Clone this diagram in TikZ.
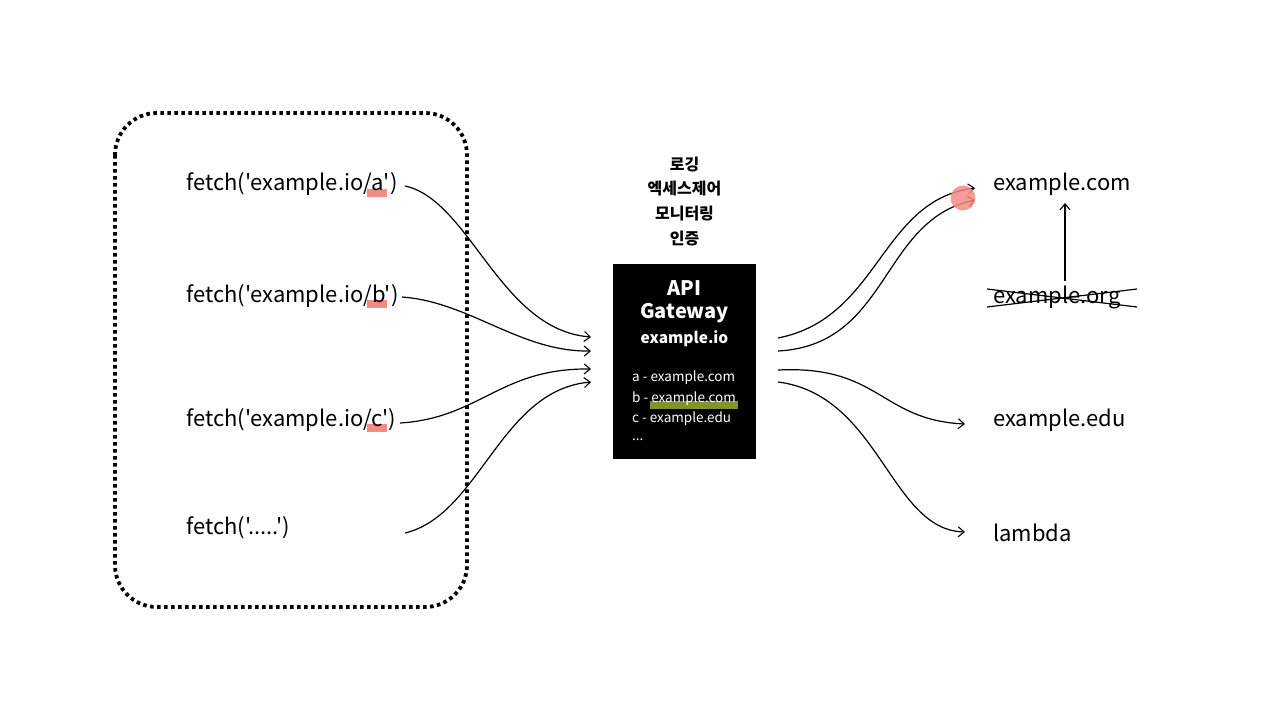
\documentclass[tikz,border=0pt]{standalone}
\usepackage{fontspec}
\setmainfont{Noto Sans CJK KR}[Ligatures=TeXOff]
\usetikzlibrary{arrows.meta}
\definecolor{hlred}{HTML}{F38B85}
\definecolor{hlgreen}{HTML}{84922E}
\tikzset{
  lbl/.style={anchor=west, inner sep=0pt, font=\fontsize{22}{24}\selectfont},
  conn/.style={line width=1.2pt, -{Straight Barb[length=6pt,width=10pt,line width=1.1pt]}},
  kor/.style={inner sep=0pt, font=\bfseries\fontsize{16}{18}\selectfont},
  gwt/.style={inner sep=0pt, text=white},
  lst/.style={anchor=west, inner sep=0pt, text=white, font=\fontsize{13.5}{15}\selectfont},
}
\begin{document}
\begin{tikzpicture}[x=1pt,y=1pt]
\useasboundingbox (0,0) rectangle (1280,-720);
% dotted client box
\draw[line width=3.8pt, dash pattern=on 3.6pt off 3.4pt, rounded corners=42pt] (115,-113) rectangle (467,-607);
% highlights
\fill[hlred] (367,-189) rectangle (387,-197);
\fill[hlred] (367,-300) rectangle (387,-308);
\fill[hlred] (367,-424) rectangle (387,-432);
% fetch labels
\node[lbl] (fa) at (186,-184) {fetch('example.io/a')};
\node[lbl] (fb) at (186,-296) {fetch('example.io/b')};
\node[lbl] (fc) at (186,-420) {fetch('example.io/c')};
\node[lbl] (fd) at (186,-528) {fetch('.....')};
% gateway
\node[fill=black, minimum width=143pt, minimum height=195pt, inner sep=0pt] (gw) at (684.5,-361.5) {};
\node[gwt, font=\bfseries\fontsize{20}{22}\selectfont] (gapi) at (684.5,-288) {API};
\node[gwt, font=\bfseries\fontsize{20}{22}\selectfont] (ggw) at (684.5,-313) {Gateway};
\node[gwt, font=\bfseries\fontsize{15.5}{17}\selectfont] (gio) at (684.5,-339) {example.io};
\fill[hlgreen] (650,-401) rectangle (738,-409);
\node[lst] (la) at (632,-378) {a - example.com};
\node[lst] (lb) at (632,-399) {b - example.com};
\node[lst] (lc) at (632,-419) {c - example.edu};
\node[lst] (ld) at (632,-440) {...};
% korean
\node[kor] (k1) at (684.5,-165) {로깅};
\node[kor] (k2) at (684.5,-189) {엑세스제어};
\node[kor] (k3) at (684.5,-214) {모니터링};
\node[kor] (k4) at (684.5,-239) {인증};
% right labels
\node[lbl] (rcom) at (993,-184) {example.com};
\node[lbl] (rorg) at (993,-297) {example.org};
\node[lbl] (redu) at (993,-420) {example.edu};
\node[lbl] (rlam) at (993,-533) {lambda};
% strike
\draw[line width=1.2pt] (987,-289) -- (1137,-307);
\draw[line width=1.2pt] (987,-307) -- (1137,-289);
\coordinate (orgtop) at (1065,-281);
\coordinate (comb) at (1065,-203);
\draw[conn] (orgtop) -- (comb);
% left connector points
\coordinate (sa) at (405,-186);
\coordinate (sb) at (402,-297);
\coordinate (sc) at (400,-423);
\coordinate (sd) at (405,-533);
\coordinate (ea) at (591,-337);
\coordinate (eb) at (591,-351);
\coordinate (ec) at (591,-369);
\coordinate (ed) at (591,-382);
\draw[conn] (sa) .. controls (470,-200) and (500,-330) .. (ea);
\draw[conn] (sb) .. controls (470,-302) and (520,-352) .. (eb);
\draw[conn] (sc) .. controls (480,-418) and (500,-368) .. (ec);
\draw[conn] (sd) .. controls (480,-515) and (500,-390) .. (ed);
% right connector points
\coordinate (ra) at (778,-338);
\coordinate (rb) at (778,-351);
\coordinate (rc) at (778,-370);
\coordinate (rd) at (778,-382);
\coordinate (ta) at (975,-188);
\coordinate (tb) at (975,-200);
\coordinate (tc) at (965,-424);
\coordinate (td) at (965,-532);
\draw[conn] (ra) .. controls (880,-318) and (880,-200) .. (ta);
\draw[conn] (rb) .. controls (890,-345) and (880,-220) .. (tb);
\draw[conn] (rc) .. controls (880,-365) and (880,-420) .. (tc);
\draw[conn] (rd) .. controls (880,-395) and (890,-530) .. (td);
% red circle (translucent, on top)
\fill[hlred, opacity=0.85] (963,-198) circle (12.5pt);
\end{tikzpicture}
\end{document}
